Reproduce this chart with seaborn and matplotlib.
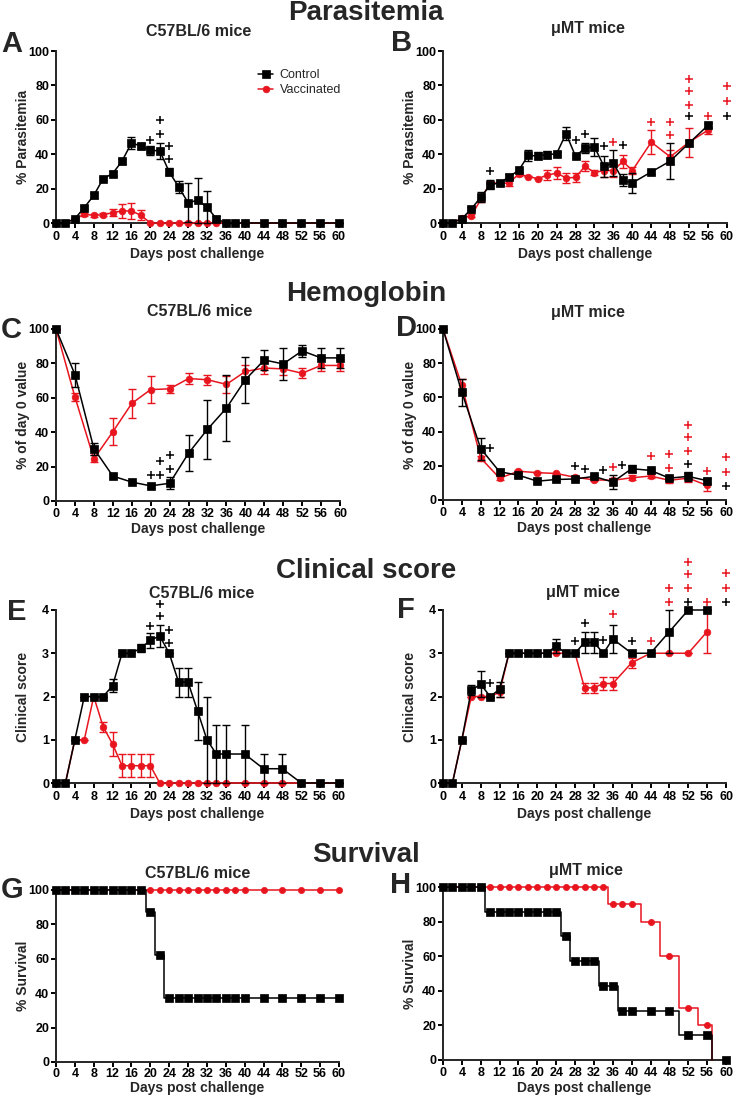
import numpy as np
import pandas as pd
import matplotlib
matplotlib.use("Agg")
import matplotlib.pyplot as plt
import seaborn as sns

# ---------------- DATA ----------------
RED = "#E8151F"
BLACK = "#000000"

# Panel A - Parasitemia C57BL/6
A_days = [0, 2, 4, 6, 8, 10, 12, 14, 16, 18, 20, 22, 24, 26, 28, 30, 32, 34, 36, 38, 40, 44, 48, 52, 56, 60]
A_ctrl = [0, 0, 2.5, 9, 16, 25.8, 28.7, 36, 46.5, 44.8, 42.2, 42, 29.7, 21, 11.8, 13.2, 9.3, 2.5, 0, 0, 0, 0, 0, 0, 0, 0]
A_ctrl_err = [0, 0, 0.5, 1, 1.5, 1, 1.5, 1.5, 3.5, 2, 2.5, 4.5, 2, 3.5, 11.5, 13, 9.3, 1.5, 0, 0, 0, 0, 0, 0, 0, 0]
A_vacc = [0, 0, 2.5, 5, 4.5, 4.8, 6, 7, 7, 4.5, 0, 0, 0, 0, 0, 0, 0, 0, 0, 0, 0, 0, 0, 0, 0, 0]
A_vacc_err = [0, 0, 0.5, 1, 1, 1, 2, 4, 4.5, 3, 0, 0, 0, 0, 0, 0, 0, 0, 0, 0, 0, 0, 0, 0, 0, 0]
A_plus_k_x = [20, 22, 22, 24, 24]
A_plus_k_y = [48.4, 52, 60, 45, 37]

# Panel B - Parasitemia muMT
B_days = [0, 2, 4, 6, 8, 10, 12, 14, 16, 18, 20, 22, 24, 26, 28, 30, 32, 34, 36, 38, 40, 44, 48, 52, 56]
B_ctrl = [0, 0, 2.5, 8.3, 15, 22.3, 23.3, 27, 30.6, 39.3, 39, 39.7, 40.3, 52, 38.8, 43.6, 44.2, 33, 35, 24.8, 23.3, 29.7, 36, 46.5, 56.8]
B_ctrl_err = [0, 0, 0.5, 1, 3, 2.5, 1, 1.5, 1, 3, 2, 2, 1, 4, 1, 3, 5.5, 6, 7.5, 3.5, 6, 1, 10.5, 2, 1.5]
B_vacc = [0, 0, 3, 4.3, 13.8, 23.5, 23, 23.3, 28.5, 27, 25.8, 27.8, 29, 26.2, 26.5, 33, 29.3, 30.5, 30.5, 35.8, 30.5, 47, 38.5, 47, 54]
B_vacc_err = [0, 0, 1, 1, 1.5, 1, 1, 1.5, 1, 0.5, 0.5, 3, 3.5, 3, 2.5, 3, 1.5, 4, 4, 4, 2, 7, 4, 8.5, 2]
B_plus_k_x = [10, 28, 30, 34, 38, 52, 60]
B_plus_k_y = [30, 48.4, 52, 45, 45.5, 62, 62]
B_plus_r_x = [36, 44, 48, 48, 52, 52, 52, 56, 60, 60]
B_plus_r_y = [47, 58.5, 58.5, 51, 83.5, 76.7, 68.6, 62, 79.5, 70.7]

# Panel C - Hemoglobin C57BL/6
C_days = [0, 4, 8, 12, 16, 20, 24, 28, 32, 36, 40, 44, 48, 52, 56, 60]
C_ctrl = [100, 73.5, 30.5, 14.5, 11, 8.8, 10.3, 27.8, 41.7, 54, 70.5, 82, 79.7, 87.3, 83.2, 83.2]
C_ctrl_err = [0, 7, 3.5, 1, 0.5, 1, 3.5, 10.5, 17, 19, 13.5, 6, 9.5, 3.5, 6, 6]
C_vacc = [100, 60.5, 24.5, 40.2, 56.7, 64.8, 65.2, 71.2, 70.5, 67.8, 75.3, 77.3, 76.8, 74.3, 78.8, 78.8]
C_vacc_err = [0, 2.5, 2, 7.8, 8.5, 7.7, 2.5, 3, 2.8, 5, 4, 3.5, 3.5, 3, 3.5, 3.5]
C_plus_k_x = [20, 22, 22, 24, 24]
C_plus_k_y = [15.3, 15.3, 23.4, 18.6, 26.7]

# Panel D - Hemoglobin muMT
D_days = [0, 4, 8, 12, 16, 20, 24, 28, 32, 36, 40, 44, 48, 52, 56]
D_ctrl = [100, 63, 30, 16.5, 14.5, 11, 12, 12.3, 13.8, 10.5, 18.3, 17.3, 12.8, 13.8, 11.3]
D_ctrl_err = [0, 8, 6.5, 1.5, 1, 0.8, 1, 0.8, 1, 4, 2, 1, 1, 2.5, 1.5]
D_vacc = [100, 67, 24.5, 12.8, 16.8, 16, 15.5, 13.3, 11.8, 11.5, 13, 14, 11.5, 12.8, 8.5]
D_vacc_err = [0, 4, 1.5, 1, 1, 0.5, 0.5, 0.5, 0.5, 1.5, 1.5, 1, 1.5, 2.5, 3.5]
D_plus_k_x = [10, 28, 30, 34, 38, 52, 60]
D_plus_k_y = [30.2, 19.8, 18, 17.5, 20.4, 20.8, 8]
D_plus_r_x = [36, 44, 48, 48, 52, 52, 52, 56, 60, 60]
D_plus_r_y = [19.5, 25.7, 26.8, 19, 43.6, 36.8, 28.8, 17, 24.9, 16.3]

# Panel E - Clinical score C57BL/6
E_days = [0, 2, 4, 6, 8, 10, 12, 14, 16, 18, 20, 22, 24, 26, 28, 30, 32, 34, 36, 40, 44, 48, 52, 56, 60]
E_ctrl = [0, 0, 1, 2, 2, 2, 2.25, 3, 3, 3.12, 3.3, 3.4, 3, 2.33, 2.33, 1.67, 1, 0.67, 0.67, 0.67, 0.33, 0.33, 0, 0, 0]
E_ctrl_err = [0, 0, 0, 0, 0, 0, 0.15, 0, 0, 0.1, 0.17, 0.25, 0, 0.33, 0.33, 0.67, 1, 0.67, 0.67, 0.67, 0.33, 0.33, 0, 0, 0]
E_vacc = [0, 0, 1, 1, 2, 1.3, 0.9, 0.4, 0.4, 0.4, 0.4, 0, 0, 0, 0, 0, 0, 0, 0, 0, 0, 0, 0, 0, 0]
E_vacc_err = [0, 0, 0, 0, 0, 0.12, 0.28, 0.27, 0.27, 0.27, 0.27, 0, 0, 0, 0, 0, 0, 0, 0, 0, 0, 0, 0, 0, 0]
E_plus_k_x = [20, 22, 22, 24, 24]
E_plus_k_y = [3.63, 4.15, 3.86, 3.54, 3.24]

# Panel F - Clinical score muMT
F_days = [0, 2, 4, 6, 8, 10, 12, 14, 16, 18, 20, 22, 24, 26, 28, 30, 32, 34, 36, 40, 44, 48, 52, 56]
F_ctrl = [0, 0, 1, 2.15, 2.28, 2, 2.17, 3, 3, 3, 3, 3, 3.17, 3, 3, 3.25, 3.25, 3, 3.33, 3, 3, 3.5, 4, 4]
F_ctrl_err = [0, 0, 0, 0.12, 0.3, 0, 0.17, 0, 0, 0, 0, 0, 0.17, 0, 0, 0.25, 0.25, 0, 0.33, 0, 0, 0.5, 0, 0]
F_vacc = [0, 0, 1, 2, 2, 2, 2.1, 3, 3, 3, 3, 3, 3, 3, 3, 2.2, 2.2, 2.3, 2.3, 2.78, 3, 3, 3, 3.5]
F_vacc_err = [0, 0, 0, 0, 0, 0, 0.1, 0, 0, 0, 0, 0, 0, 0, 0, 0.12, 0.12, 0.15, 0.15, 0.12, 0, 0, 0, 0.5]
F_plus_k_x = [10, 28, 30, 34, 40, 52, 60]
F_plus_k_y = [2.32, 3.28, 3.69, 3.3, 3.28, 4.19, 4.19]
F_plus_r_x = [36, 44, 48, 48, 52, 52, 52, 56, 60, 60]
F_plus_r_y = [3.9, 3.28, 4.19, 4.52, 5.1, 4.83, 4.52, 4.19, 4.86, 4.52]

# Panel G - Survival C57BL/6
G_ctrl_step_t = [0, 19, 21, 23, 60]
G_ctrl_step_s = [100, 87.5, 62.5, 37.5, 37.5]
G_vacc_step_t = [0, 60]
G_vacc_step_s = [100, 100]
G_ctrl_mark_t = [0, 2, 4, 6, 8, 10, 12, 14, 16, 18, 20, 22, 24, 26, 28, 30, 32, 34, 36, 38, 40, 44, 48, 52, 56, 60]
G_ctrl_mark_s = [100] * 10 + [87.5, 62.5] + [37.5] * 14
G_vacc_mark_t = [20, 22, 24, 26, 28, 30, 32, 34, 36, 38, 40, 44, 48, 52, 56, 60]
G_vacc_mark_s = [100] * 16

# Panel H - Survival muMT
H_ctrl_step_t = [0, 9, 25, 27, 33, 37, 50, 57]
H_ctrl_step_s = [100, 85.7, 71.4, 57.1, 42.9, 28.6, 14.3, 0]
H_vacc_step_t = [0, 35, 42, 46, 50, 54, 57]
H_vacc_step_s = [100, 90, 80, 60, 30, 20, 0]
H_ctrl_mark_t = [0, 2, 4, 6, 8, 10, 12, 14, 16, 18, 20, 22, 24, 26, 28, 30, 32, 34, 36, 38, 40, 44, 48, 52, 56, 60]
H_ctrl_mark_s = [100] * 5 + [85.7] * 8 + [71.4] + [57.1] * 3 + [42.9] * 2 + [28.6] * 4 + [14.3] * 2 + [0]
H_vacc_mark_t = [10, 12, 14, 16, 18, 20, 22, 24, 26, 28, 30, 32, 34, 36, 38, 40, 44, 48, 52, 56]
H_vacc_mark_s = [100] * 13 + [90] * 3 + [80, 60, 30, 20]

# ---------------- STYLE ----------------
sns.set_theme(style="ticks")
plt.rcParams["font.family"] = ["Liberation Sans", "DejaVu Sans"]
plt.rcParams["font.weight"] = "bold"
plt.rcParams["axes.labelweight"] = "bold"

W, H = 733, 1099
fig = plt.figure(figsize=(W / 100, H / 100), dpi=100)


def add_ax(l, r, t, b):
    return fig.add_axes([l / W, 1 - b / H, (r - l) / W, (b - t) / H])


def series(ax, days, vals, errs, color, marker, ms, label=None, z=3):
    df = pd.DataFrame({"day": days, "val": vals})
    sns.lineplot(data=df, x="day", y="val", ax=ax, color=color, marker=marker,
                 markersize=ms, markeredgecolor=color, markeredgewidth=0.5,
                 linewidth=1.1, estimator=None, clip_on=False, zorder=z,
                 label=label, legend=False)
    ax.errorbar(days, vals, yerr=errs, fmt="none", ecolor=color, elinewidth=1.0,
                capsize=2.8, capthick=1.0, clip_on=False, zorder=z - 0.5)


def pluses(ax, xs, ys, color):
    ax.plot(xs, ys, ls="none", marker="+", ms=5.5, mew=1.1, color=color,
            clip_on=False, zorder=6)


def style(ax, ymax, yticks, ylabel, subtitle, letter, px, letter_pos, sub_pos,
          xpad=2.0, xlab_off=22):
    ax.set_xlim(0, 60)
    ax.set_ylim(0, ymax)
    ax.set_xticks(range(0, 61, 4))
    ax.set_yticks(yticks)
    sns.despine(ax=ax)
    for s in ["left", "bottom"]:
        ax.spines[s].set_linewidth(1.4)
    ax.tick_params(width=1.4, length=3.5, labelsize=9, pad=1.5, colors="black")
    ax.tick_params(axis="x", pad=xpad)
    for lab in ax.get_xticklabels() + ax.get_yticklabels():
        lab.set_fontweight("bold")
    l, r, t, b = px
    ax.set_xlabel("Days post challenge", fontsize=10, fontweight="bold", labelpad=0)
    ax.xaxis.set_label_coords(0.5, -xlab_off / (b - t))
    ax.set_ylabel(ylabel, fontsize=10, fontweight="bold")
    ax.yaxis.set_label_coords(-26 / (r - l), 0.5)
    fig.text(sub_pos[0] / W, 1 - sub_pos[1] / H, subtitle, fontsize=11.5,
             fontweight="bold", ha="center", va="center")
    fig.text(letter_pos[0] / W, 1 - letter_pos[1] / H, letter, fontsize=21,
             fontweight="bold", ha="left", va="center")


# ---------------- PANELS ----------------
pxA = (56, 339, 51, 223)
pxB = (443, 727, 51, 223)
pxC = (56, 340, 329, 501)
pxD = (443, 726, 329, 500)
pxE = (56, 339, 610, 783)
pxF = (443, 726, 610, 783)
pxG = (56, 339, 890, 1062)
pxH = (443, 726, 887, 1060)

SQ, CI = 5.8, 4.8

# A
axA = add_ax(*pxA)
series(axA, A_days, A_vacc, A_vacc_err, RED, "o", CI, label="Vaccinated", z=3)
series(axA, A_days, A_ctrl, A_ctrl_err, BLACK, "s", SQ, label="Control", z=4)
pluses(axA, A_plus_k_x, A_plus_k_y, BLACK)
style(axA, 100, range(0, 101, 20), "% Parasitemia", "C57BL/6 mice", "A", pxA, (1, 44), (199, 32),
      xpad=2.5, xlab_off=24)
h, lab = axA.get_legend_handles_labels()
order = [lab.index("Control"), lab.index("Vaccinated")]
axA.legend([h[i] for i in order], [lab[i] for i in order], loc="upper left",
           bbox_to_anchor=(252 / W, 1 - 63 / H), bbox_transform=fig.transFigure,
           frameon=False, prop={"weight": "normal", "size": 9},
           handlelength=1.2, handletextpad=0.5, labelspacing=0.25, borderpad=0)

# B
axB = add_ax(*pxB)
series(axB, B_days, B_vacc, B_vacc_err, RED, "o", CI, z=3)
series(axB, B_days, B_ctrl, B_ctrl_err, BLACK, "s", SQ, z=4)
pluses(axB, B_plus_k_x, B_plus_k_y, BLACK)
pluses(axB, B_plus_r_x, B_plus_r_y, RED)
style(axB, 100, range(0, 101, 20), "% Parasitemia", "\u03bcMT mice", "B", pxB, (391, 43), (588, 29),
      xpad=2.5, xlab_off=24)

# C
axC = add_ax(*pxC)
series(axC, C_days, C_vacc, C_vacc_err, RED, "o", CI, z=3)
series(axC, C_days, C_ctrl, C_ctrl_err, BLACK, "s", SQ, z=4)
pluses(axC, C_plus_k_x, C_plus_k_y, BLACK)
style(axC, 100, range(0, 101, 20), "% of day 0 value", "C57BL/6 mice", "C", pxC, (1, 330), (200, 312),
      xpad=1.5, xlab_off=21)

# D
axD = add_ax(*pxD)
series(axD, D_days, D_vacc, D_vacc_err, RED, "o", CI, z=3)
series(axD, D_days, D_ctrl, D_ctrl_err, BLACK, "s", SQ, z=4)
pluses(axD, D_plus_k_x, D_plus_k_y, BLACK)
pluses(axD, D_plus_r_x, D_plus_r_y, RED)
style(axD, 100, range(0, 101, 20), "% of day 0 value", "\u03bcMT mice", "D", pxD, (396, 328), (588, 313),
      xpad=1.5, xlab_off=21)

# E
axE = add_ax(*pxE)
series(axE, E_days, E_vacc, E_vacc_err, RED, "o", CI, z=3)
series(axE, E_days, E_ctrl, E_ctrl_err, BLACK, "s", SQ, z=4)
pluses(axE, E_plus_k_x, E_plus_k_y, BLACK)
style(axE, 4, range(0, 5), "Clinical score", "C57BL/6 mice", "E", pxE, (7, 612), (202, 593),
      xpad=2.0, xlab_off=24)

# F
axF = add_ax(*pxF)
series(axF, F_days, F_vacc, F_vacc_err, RED, "o", CI, z=3)
series(axF, F_days, F_ctrl, F_ctrl_err, BLACK, "s", SQ, z=4)
pluses(axF, F_plus_k_x, F_plus_k_y, BLACK)
pluses(axF, F_plus_r_x, F_plus_r_y, RED)
style(axF, 4, range(0, 5), "Clinical score", "\u03bcMT mice", "F", pxF, (397, 610), (583, 593),
      xpad=2.0, xlab_off=24)


def survival(ax, st, ss, mt, ms_, color, marker, msz, z):
    df = pd.DataFrame({"t": st, "s": ss})
    sns.lineplot(data=df, x="t", y="s", ax=ax, color=color, drawstyle="steps-post",
                 linewidth=1.1, estimator=None, sort=False, clip_on=False, zorder=z,
                 legend=False)
    dm = pd.DataFrame({"t": mt, "s": ms_})
    sns.scatterplot(data=dm, x="t", y="s", ax=ax, color=color, marker=marker,
                    s=msz, edgecolor=color, linewidth=0.5, clip_on=False,
                    zorder=z + 0.5, legend=False)


# G
axG = add_ax(*pxG)
survival(axG, G_vacc_step_t, G_vacc_step_s, G_vacc_mark_t, G_vacc_mark_s, RED, "o", 20, 3)
survival(axG, G_ctrl_step_t, G_ctrl_step_s, G_ctrl_mark_t, G_ctrl_mark_s, BLACK, "s", 26, 4)
style(axG, 100, range(0, 101, 20), "% Survival", "C57BL/6 mice", "G", pxG, (1, 890), (198, 873),
      xpad=1.0, xlab_off=19)

# H
axH = add_ax(*pxH)
survival(axH, H_vacc_step_t, H_vacc_step_s, H_vacc_mark_t, H_vacc_mark_s, RED, "o", 20, 3)
survival(axH, H_ctrl_step_t, H_ctrl_step_s, H_ctrl_mark_t, H_ctrl_mark_s, BLACK, "s", 26, 4)
style(axH, 100, range(0, 101, 20), "% Survival", "\u03bcMT mice", "H", pxH, (390, 885), (586, 871),
      xpad=1.5, xlab_off=21)

# Section titles
for txt, y in [("Parasitemia", 20), ("Hemoglobin", 301), ("Clinical score", 578), ("Survival", 862)]:
    fig.text(366 / W, 1 - y / H, txt, fontsize=20, fontweight="bold", ha="center", va="baseline")

fig.savefig("out.png", dpi=100)
